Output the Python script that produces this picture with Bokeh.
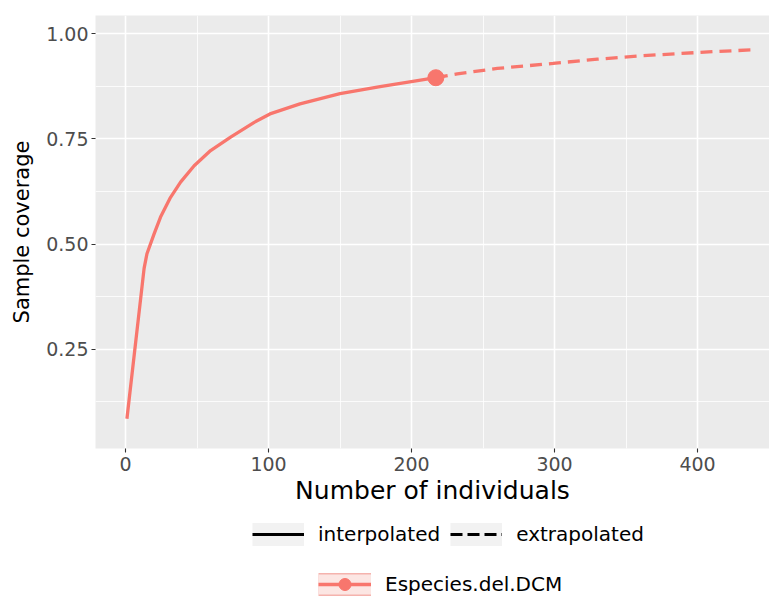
from bokeh.plotting import figure
from bokeh.layouts import column
from bokeh.models import Range1d, FixedTicker, Legend, LegendItem
from bokeh.embed import file_html
from bokeh.resources import INLINE

# ---- data ----
interp_x = [1, 13, 15, 20, 24.5, 31.5, 38.5, 48, 59.5, 73.5, 90, 101, 122, 150,
            178, 202, 217]
interp_y = [0.085, 0.442, 0.477, 0.524, 0.564, 0.611, 0.647, 0.686, 0.722, 0.754,
            0.789, 0.809, 0.833, 0.857, 0.874, 0.887, 0.895]
extrap_x = [217, 232, 260, 299, 330, 360, 411, 437]
extrap_y = [0.895, 0.904, 0.917, 0.929, 0.939, 0.947, 0.957, 0.961]
obs_x = [217]
obs_y = [0.895]

x_ticks = [0, 100, 200, 300, 400]
x_minor = [50, 150, 250, 350]
y_ticks = [0.25, 0.50, 0.75, 1.00]
y_tick_labels = ["0.25", "0.50", "0.75", "1.00"]
y_minor = [0.125, 0.375, 0.625, 0.875]

series_name = "Especies.del.DCM"
method_labels = ["interpolated", "extrapolated"]
x_title = "Number of individuals"
y_title = "Sample coverage"

COL = "#F8766D"
FONT = "DejaVu Sans"
NAN = float("nan")

# ---------------- main chart ----------------
p = figure(width=769, height=515, output_backend="svg", toolbar_location=None,
           x_range=Range1d(-20.98, 450.3), y_range=Range1d(0.0143, 1.0428),
           min_border_left=95, min_border_right=0, min_border_top=15,
           min_border_bottom=67)
p.background_fill_color = "#EBEBEB"
p.border_fill_color = "white"
p.outline_line_color = None

p.xaxis.ticker = FixedTicker(ticks=x_ticks, minor_ticks=x_minor)
p.yaxis.ticker = FixedTicker(ticks=y_ticks, minor_ticks=y_minor)
p.yaxis.major_label_overrides = {t: l for t, l in zip(y_ticks, y_tick_labels)}

for g in (p.xgrid, p.ygrid):
    g.grid_line_color = "white"
    g.grid_line_width = 1.6
    g.minor_grid_line_color = "white"
    g.minor_grid_line_width = 0.8

for ax in (p.xaxis, p.yaxis):
    ax.axis_line_color = None
    ax.minor_tick_line_color = None
    ax.major_tick_line_color = "#333333"
    ax.major_tick_line_width = 1.1
    ax.major_tick_out = 4
    ax.major_tick_in = 0
    ax.major_label_text_font = FONT
    ax.major_label_text_font_size = "19px"
    ax.major_label_text_color = "#4D4D4D"
    ax.axis_label_text_font = FONT
    ax.axis_label_text_font_style = "normal"
    ax.axis_label_text_color = "black"

p.xaxis.axis_label = x_title
p.xaxis.axis_label_text_font_size = "25px"
p.xaxis.major_label_standoff = 4
p.xaxis.axis_label_standoff = 2
p.yaxis.axis_label = y_title
p.yaxis.axis_label_text_font_size = "21px"
p.yaxis.major_label_standoff = 3
p.yaxis.axis_label_standoff = 9

p.line(interp_x, interp_y, line_color=COL, line_width=3.3, line_join="round")
p.line(extrap_x, extrap_y, line_color=COL, line_width=3.3, line_dash="12 7")
p.scatter(obs_x, obs_y, size=16, fill_color=COL, line_color=COL)

# ---------------- legend strip ----------------
q = figure(width=769, height=82, output_backend="svg", toolbar_location=None,
           x_range=Range1d(0, 1), y_range=Range1d(0, 1),
           x_axis_location=None, y_axis_location=None,
           min_border_left=0, min_border_right=0, min_border_top=0, min_border_bottom=0)
q.grid.visible = False
q.outline_line_color = None
q.background_fill_color = "white"
q.border_fill_color = "white"

# legend key renderers (a single NaN point each: nothing drawn in the strip itself)
key_bg = q.line([NAN], [NAN], line_color="#F2F2F2", line_width=23)
key_solid = q.line([NAN], [NAN], line_color="black", line_width=3)
key_dash = q.line([NAN], [NAN], line_color="black", line_width=3, line_dash="12 5")
key2_border = q.line([NAN], [NAN], line_color="#F5B3AD", line_width=23)
key2_fill = q.line([NAN], [NAN], line_color="#FCE6E3", line_width=20)
key2_line = q.line([NAN], [NAN], line_color=COL, line_width=3.3)
key2_point = q.scatter([NAN], [NAN], size=16, fill_color=COL, line_color=COL)

leg1 = Legend(items=[LegendItem(label=method_labels[0], renderers=[key_bg, key_solid]),
                     LegendItem(label=method_labels[1], renderers=[key_bg, key_dash])],
              orientation="horizontal", location=(157, 49),
              glyph_width=52, glyph_height=28, label_standoff=14, spacing=10,
              padding=0, margin=0, background_fill_alpha=0, border_line_color=None,
              label_text_font=FONT, label_text_font_size="20px", label_text_color="black")
leg2 = Legend(items=[LegendItem(label=series_name,
                                renderers=[key2_border, key2_fill, key2_line, key2_point])],
              orientation="horizontal", location=(223, -2),
              glyph_width=53, glyph_height=30, label_standoff=14,
              padding=0, margin=0, background_fill_alpha=0, border_line_color=None,
              label_text_font=FONT, label_text_font_size="20px", label_text_color="black")
q.add_layout(leg1)
q.add_layout(leg2)

layout = column(p, q, spacing=0)
open("out.html", "w").write(file_html(layout, INLINE))
